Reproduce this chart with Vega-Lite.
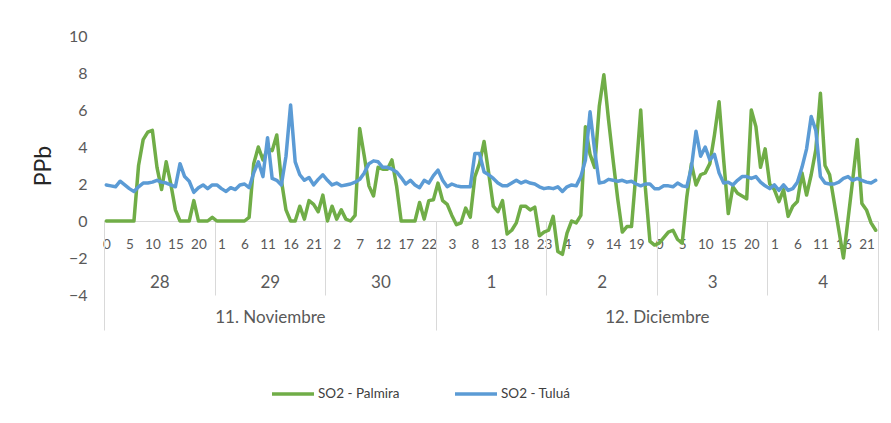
{
  "$schema": "https://vega.github.io/schema/vega-lite/v6.json",
  "width": 774,
  "height": 259,
  "autosize": {"type": "none"},
  "padding": {"left": 104, "top": 36, "right": 13, "bottom": 128},
  "background": "white",
  "config": {
    "font": "Lato",
    "view": {"stroke": null},
    "axis": {"labelFont": "Lato", "labelColor": "#595959", "titleFont": "Lato", "grid": false}
  },
  "data": {"values": [
    {"i":0,"palmira":0,"tulua":1.95},{"i":1,"palmira":0,"tulua":1.9},{"i":2,"palmira":0,"tulua":1.85},{"i":3,"palmira":0,"tulua":2.15},
    {"i":4,"palmira":0,"tulua":1.95},{"i":5,"palmira":0,"tulua":1.75},{"i":6,"palmira":0,"tulua":1.6},{"i":7,"palmira":3.0,"tulua":1.85},
    {"i":8,"palmira":4.4,"tulua":2.05},{"i":9,"palmira":4.8,"tulua":2.05},{"i":10,"palmira":4.9,"tulua":2.1},{"i":11,"palmira":2.9,"tulua":2.2},
    {"i":12,"palmira":1.7,"tulua":2.1},{"i":13,"palmira":3.2,"tulua":2.05},{"i":14,"palmira":2.0,"tulua":1.95},{"i":15,"palmira":0.6,"tulua":1.85},
    {"i":16,"palmira":0,"tulua":3.1},{"i":17,"palmira":0,"tulua":2.4},{"i":18,"palmira":0,"tulua":2.15},{"i":19,"palmira":1.1,"tulua":1.55},
    {"i":20,"palmira":0,"tulua":1.8},{"i":21,"palmira":0,"tulua":1.95},{"i":22,"palmira":0,"tulua":1.75},{"i":23,"palmira":0.2,"tulua":1.95},
    {"i":24,"palmira":0,"tulua":1.95},{"i":25,"palmira":0,"tulua":1.75},{"i":26,"palmira":0,"tulua":1.6},{"i":27,"palmira":0,"tulua":1.8},
    {"i":28,"palmira":0,"tulua":1.7},{"i":29,"palmira":0,"tulua":1.95},{"i":30,"palmira":0,"tulua":2.0},{"i":31,"palmira":0.2,"tulua":1.8},
    {"i":32,"palmira":3.1,"tulua":2.6},{"i":33,"palmira":4.0,"tulua":3.2},{"i":34,"palmira":3.3,"tulua":2.4},{"i":35,"palmira":3.9,"tulua":4.5},
    {"i":36,"palmira":3.8,"tulua":2.3},{"i":37,"palmira":4.65,"tulua":2.2},{"i":38,"palmira":2.2,"tulua":1.95},{"i":39,"palmira":0.6,"tulua":3.5},
    {"i":40,"palmira":0,"tulua":6.27},{"i":41,"palmira":0,"tulua":3.2},{"i":42,"palmira":0.8,"tulua":2.5},{"i":43,"palmira":0.1,"tulua":2.2},
    {"i":44,"palmira":1.1,"tulua":2.35},{"i":45,"palmira":0.9,"tulua":1.95},{"i":46,"palmira":0.5,"tulua":2.25},{"i":47,"palmira":1.4,"tulua":2.5},
    {"i":48,"palmira":0,"tulua":2.2},{"i":49,"palmira":0.8,"tulua":1.95},{"i":50,"palmira":0.1,"tulua":2.05},{"i":51,"palmira":0.6,"tulua":1.9},
    {"i":52,"palmira":0.1,"tulua":1.95},{"i":53,"palmira":0,"tulua":2.0},{"i":54,"palmira":0.3,"tulua":2.1},{"i":55,"palmira":5.0,"tulua":2.25},
    {"i":56,"palmira":3.5,"tulua":2.6},{"i":57,"palmira":1.9,"tulua":3.1},{"i":58,"palmira":1.35,"tulua":3.25},{"i":59,"palmira":2.9,"tulua":3.2},
    {"i":60,"palmira":2.8,"tulua":2.9},{"i":61,"palmira":2.8,"tulua":2.9},{"i":62,"palmira":3.3,"tulua":2.8},{"i":63,"palmira":1.9,"tulua":2.65},
    {"i":64,"palmira":0,"tulua":2.35},{"i":65,"palmira":0,"tulua":2.0},{"i":66,"palmira":0,"tulua":2.2},{"i":67,"palmira":0,"tulua":1.95},
    {"i":68,"palmira":1.0,"tulua":1.8},{"i":69,"palmira":0.1,"tulua":2.2},{"i":70,"palmira":1.1,"tulua":2.05},{"i":71,"palmira":1.15,"tulua":2.45},
    {"i":72,"palmira":2.05,"tulua":2.75},{"i":73,"palmira":1.1,"tulua":2.2},{"i":74,"palmira":0.9,"tulua":1.85},{"i":75,"palmira":0.3,"tulua":2.0},
    {"i":76,"palmira":-0.2,"tulua":1.9},{"i":77,"palmira":-0.1,"tulua":1.85},{"i":78,"palmira":0.7,"tulua":1.85},{"i":79,"palmira":0.2,"tulua":1.85},
    {"i":80,"palmira":2.4,"tulua":3.65},{"i":81,"palmira":3.1,"tulua":3.65},{"i":82,"palmira":4.3,"tulua":2.65},{"i":83,"palmira":2.6,"tulua":2.5},
    {"i":84,"palmira":0.8,"tulua":2.3},{"i":85,"palmira":0.5,"tulua":2.05},{"i":86,"palmira":1.1,"tulua":1.9},{"i":87,"palmira":-0.7,"tulua":1.9},
    {"i":88,"palmira":-0.5,"tulua":2.05},{"i":89,"palmira":-0.1,"tulua":2.2},{"i":90,"palmira":0.8,"tulua":2.05},{"i":91,"palmira":0.8,"tulua":2.15},
    {"i":92,"palmira":0.6,"tulua":2.05},{"i":93,"palmira":0.75,"tulua":2.0},{"i":94,"palmira":-0.8,"tulua":1.85},{"i":95,"palmira":-0.6,"tulua":1.75},
    {"i":96,"palmira":-0.5,"tulua":1.8},{"i":97,"palmira":0.25,"tulua":1.75},{"i":98,"palmira":-1.65,"tulua":1.85},{"i":99,"palmira":-1.8,"tulua":1.6},
    {"i":100,"palmira":-0.65,"tulua":1.85},{"i":101,"palmira":0.0,"tulua":1.95},{"i":102,"palmira":-0.1,"tulua":1.9},{"i":103,"palmira":0.3,"tulua":2.4},
    {"i":104,"palmira":5.1,"tulua":3.3},{"i":105,"palmira":3.6,"tulua":5.9},{"i":106,"palmira":2.9,"tulua":3.8},{"i":107,"palmira":6.2,"tulua":2.05},
    {"i":108,"palmira":7.9,"tulua":2.1},{"i":109,"palmira":5.5,"tulua":2.25},{"i":110,"palmira":3.3,"tulua":2.2},{"i":111,"palmira":1.2,"tulua":2.15},
    {"i":112,"palmira":-0.6,"tulua":2.2},{"i":113,"palmira":-0.3,"tulua":2.1},{"i":114,"palmira":-0.3,"tulua":2.15},{"i":115,"palmira":2.7,"tulua":2.0},
    {"i":116,"palmira":6.0,"tulua":1.9},{"i":117,"palmira":1.8,"tulua":2.0},{"i":118,"palmira":-1.1,"tulua":2.0},{"i":119,"palmira":-1.3,"tulua":1.75},
    {"i":120,"palmira":-1.2,"tulua":1.75},{"i":121,"palmira":-0.9,"tulua":1.9},{"i":122,"palmira":-0.6,"tulua":1.9},{"i":123,"palmira":-0.5,"tulua":1.85},
    {"i":124,"palmira":-1.0,"tulua":2.05},{"i":125,"palmira":-1.2,"tulua":1.9},{"i":126,"palmira":1.3,"tulua":1.85},{"i":127,"palmira":3.1,"tulua":2.9},
    {"i":128,"palmira":1.95,"tulua":4.85},{"i":129,"palmira":2.5,"tulua":3.5},{"i":130,"palmira":2.6,"tulua":4.0},{"i":131,"palmira":3.1,"tulua":3.3},
    {"i":132,"palmira":4.65,"tulua":3.6},{"i":133,"palmira":6.45,"tulua":2.6},{"i":134,"palmira":3.3,"tulua":2.05},{"i":135,"palmira":0.4,"tulua":2.1},
    {"i":136,"palmira":1.85,"tulua":1.95},{"i":137,"palmira":1.5,"tulua":2.2},{"i":138,"palmira":1.35,"tulua":2.4},{"i":139,"palmira":1.2,"tulua":2.4},
    {"i":140,"palmira":6.0,"tulua":2.3},{"i":141,"palmira":5.1,"tulua":2.4},{"i":142,"palmira":2.9,"tulua":2.1},{"i":143,"palmira":3.9,"tulua":1.9},
    {"i":144,"palmira":2.0,"tulua":1.75},{"i":145,"palmira":1.7,"tulua":1.95},{"i":146,"palmira":1.05,"tulua":1.65},{"i":147,"palmira":1.7,"tulua":1.95},
    {"i":148,"palmira":0.25,"tulua":1.65},{"i":149,"palmira":0.8,"tulua":1.75},{"i":150,"palmira":1.05,"tulua":2.1},{"i":151,"palmira":2.6,"tulua":2.9},
    {"i":152,"palmira":1.4,"tulua":3.9},{"i":153,"palmira":2.5,"tulua":5.65},{"i":154,"palmira":3.85,"tulua":4.9},{"i":155,"palmira":6.9,"tulua":2.4},
    {"i":156,"palmira":3.0,"tulua":2.05},{"i":157,"palmira":2.5,"tulua":2.0},{"i":158,"palmira":1.0,"tulua":2.0},{"i":159,"palmira":-0.5,"tulua":2.1},
    {"i":160,"palmira":-2.0,"tulua":2.3},{"i":161,"palmira":0.1,"tulua":2.4},{"i":162,"palmira":2.2,"tulua":2.2},{"i":163,"palmira":4.4,"tulua":2.3},
    {"i":164,"palmira":0.95,"tulua":2.2},{"i":165,"palmira":0.6,"tulua":2.1},{"i":166,"palmira":-0.1,"tulua":2.05},{"i":167,"palmira":-0.5,"tulua":2.2}
  ]},
  "resolve": {"axis": {"x": "independent", "y": "independent"}},
  "layer": [
    {
      "transform": [{"fold": ["palmira", "tulua"], "as": ["serie", "ppb"]}],
      "mark": {"type": "line", "strokeWidth": 3.5, "strokeJoin": "round", "strokeCap": "round"},
      "encoding": {
        "x": {"field": "i", "type": "quantitative",
          "scale": {"domain": [-0.5, 167.5], "nice": false, "zero": false},
          "axis": {"orient": "bottom", "offset": -74, "title": null,
            "values": [0,5,10,15,20,25,30,35,40,45,50,55,60,65,70,75,80,85,90,95,100,105,110,115,120,125,130,135,140,145,150,155,160,165],
            "labelExpr": "datum.value % 24", "ticks": false, "domain": true, "domainColor": "#D9D9D9", "domainWidth": 1,
            "labelFontSize": 13.5, "labelPadding": 16, "labelOverlap": false, "labelFlush": false}},
        "y": {"field": "ppb", "type": "quantitative",
          "scale": {"domain": [-4, 10], "nice": false, "zero": false},
          "axis": {"values": [-4,-2,0,2,4,6,8,10], "domain": false, "ticks": false, "labelFontSize": 16, "labelPadding": 17,
            "title": "PPb", "titleFontSize": 23, "titleFontWeight": "normal", "titleColor": "#262626", "titlePadding": 13}},
        "color": {"field": "serie", "type": "nominal",
          "scale": {"domain": ["palmira", "tulua"], "range": ["#70AD47", "#5B9BD5"]},
          "legend": {"orient": "none", "direction": "horizontal", "legendX": 166, "legendY": 335, "title": null,
            "symbolType": "stroke", "symbolSize": 1764, "symbolStrokeWidth": 3.5, "labelFont": "Lato", "labelFontSize": 13.5,
            "labelColor": "#404040", "labelOffset": 2, "columnPadding": 48,
            "labelExpr": "datum.label == 'palmira' ? 'SO2 - Palmira' : 'SO2 - Tuluá'"}}
      }
    },
    {
      "mark": {"type": "point", "opacity": 0},
      "encoding": {
        "x": {"field": "i", "type": "quantitative",
          "scale": {"domain": [-0.5, 167.5], "nice": false, "zero": false},
          "axis": {"orient": "bottom", "offset": -74, "title": null, "domain": false, "ticks": false,
            "values": [11.5, 35.5, 59.5, 83.5, 107.5, 131.5, 155.5],
            "labelExpr": "['28','29','30','1','2','3','4'][floor(datum.value / 24)]",
            "labelFontSize": 17, "labelPadding": 53, "labelOverlap": false, "labelFlush": false}},
        "y": {"field": "palmira", "type": "quantitative", "axis": null}
      }
    },
    {
      "mark": {"type": "point", "opacity": 0},
      "encoding": {
        "x": {"field": "i", "type": "quantitative",
          "scale": {"domain": [-0.5, 167.5], "nice": false, "zero": false},
          "axis": {"orient": "bottom", "offset": -74, "title": null, "domain": false, "labels": false,
            "values": [23.5, 47.5, 95.5, 119.5, 143.5], "ticks": true, "tickSize": 74, "tickColor": "#D9D9D9", "tickWidth": 1}},
        "y": {"field": "palmira", "type": "quantitative", "axis": null}
      }
    },
    {
      "mark": {"type": "point", "opacity": 0},
      "encoding": {
        "x": {"field": "i", "type": "quantitative",
          "scale": {"domain": [-0.5, 167.5], "nice": false, "zero": false},
          "axis": {"orient": "bottom", "offset": -74, "title": null, "domain": false, "ticks": false,
            "values": [35.5, 119.5],
            "labelExpr": "datum.value < 72 ? '11. Noviembre' : '12. Diciembre'",
            "labelFontSize": 17, "labelPadding": 88, "labelOverlap": false, "labelFlush": false}},
        "y": {"field": "palmira", "type": "quantitative", "axis": null}
      }
    },
    {
      "mark": {"type": "point", "opacity": 0},
      "encoding": {
        "x": {"field": "i", "type": "quantitative",
          "scale": {"domain": [-0.5, 167.5], "nice": false, "zero": false},
          "axis": {"orient": "bottom", "offset": -74, "title": null, "domain": false, "labels": false,
            "values": [-0.5, 71.5, 167.5], "ticks": true, "tickSize": 109, "tickColor": "#D9D9D9", "tickWidth": 1}},
        "y": {"field": "palmira", "type": "quantitative", "axis": null}
      }
    }
  ]
}
